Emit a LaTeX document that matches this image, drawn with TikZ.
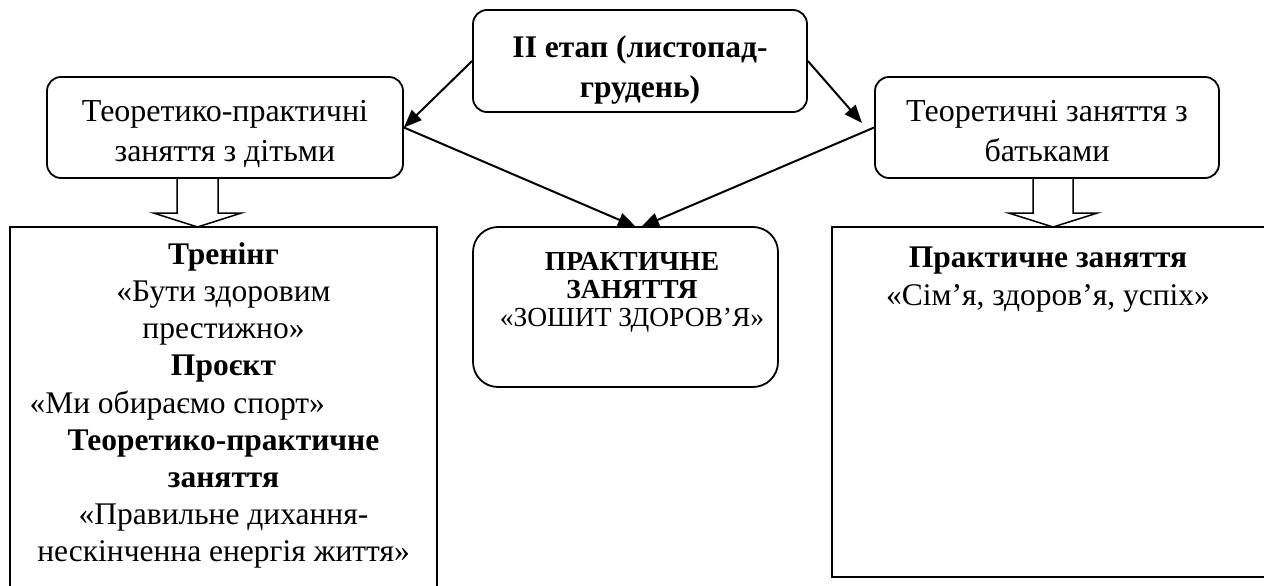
\documentclass[tikz,border=0pt]{standalone}
\usepackage{fontspec}
\setmainfont{Liberation Serif}
\usetikzlibrary{arrows.meta,calc}
\begin{document}
\begin{tikzpicture}[x=1pt,y=-1pt,
  box/.style={draw, line width=1.8pt, rounded corners=14pt, inner sep=0pt},
  bigbox/.style={draw, line width=1.8pt, inner sep=0pt},
  arr/.style={line width=2pt, -{Triangle[length=18pt,width=14pt]}},
  hollow/.style={draw, line width=1.5pt, line join=miter},
  txt/.style={inner sep=0pt, align=center, anchor=north},
  reg/.style={font=\fontsize{32}{40}\selectfont},
]
\useasboundingbox (0,0) rectangle (1264,586);

% boxes
\node[box, minimum width=334pt, minimum height=102pt] (top) at (640,61) {};
\node[txt, font=\fontsize{31.5}{40}\selectfont\bfseries] (toptxt) at ($(top.north)+(0,20)$) {\strut II етап (листопад-\\грудень)};

\node[box, minimum width=356pt, minimum height=101pt] (lbox) at (225,127.5) {};
\node[txt, reg] (lboxtxt) at ($(lbox.north)+(0,17)$) {\strut Теоретико-практичні\\заняття з дітьми};

\node[box, minimum width=344pt, minimum height=101pt] (rbox) at (1047,127.5) {};
\node[txt, reg] (rboxtxt) at ($(rbox.north)+(0,17)$) {\strut Теоретичні заняття з\\батьками};

\node[box, rounded corners=25pt, minimum width=305pt, minimum height=160pt] (mid) at (625.5,307) {};
\node[txt, font=\fontsize{27.5}{28}\selectfont] (midtxt) at ($(mid.north)+(6.5,24.4)$) {\strut\textbf{ПРАКТИЧНЕ}\\\textbf{ЗАНЯТТЯ}\\«ЗОШИТ ЗДОРОВ’Я»};

\node[bigbox, minimum width=427pt, minimum height=363pt] (lbig) at (223.5,408.5) {};
\node[txt, font=\fontsize{31.5}{37.2}\selectfont] (lbigtxt) at ($(lbig.north)+(0,12)$) {\strut\textbf{Тренінг}\\«Бути здоровим\\престижно»\\\textbf{Проєкт}\\\makebox[388pt][l]{«Ми обираємо спорт»}\\\textbf{Теоретико-практичне}\\\textbf{заняття}\\«Правильне дихання-\\нескінченна енергія життя»};

\node[bigbox, minimum width=434pt, minimum height=350pt] (rbig) at (1049,402) {};
\node[txt, font=\fontsize{31.5}{38.5}\selectfont] (rbigtxt) at ($(rbig.north)+(-1,14)$) {\strut\textbf{Практичне заняття}\\«Сім’я, здоров’я, успіх»};

% connectors
\coordinate (rtip) at (862,123);
\coordinate (mtipL) at (636,227);
\coordinate (mtipR) at (641,227);
\draw[arr] (top.west) -- (lbox.east);
\draw[arr] (top.east) -- (rtip);
\draw[arr] (lbox.east) -- (mtipL);
\draw[arr] (rbox.west) -- (mtipR);

% hollow block arrows
\coordinate (lha) at (197.5,178);
\coordinate (rha) at (1053,178);
\draw[hollow] ($(lha)+(-20.5,0)$) -- ($(lha)+(-20.5,35)$) -- ($(lha)+(-44,35)$) -- ($(lha)+(0,49)$) -- ($(lha)+(44,35)$) -- ($(lha)+(20.5,35)$) -- ($(lha)+(20.5,0)$);
\draw[hollow] ($(rha)+(-20,0)$) -- ($(rha)+(-20,35)$) -- ($(rha)+(-44.5,35)$) -- ($(rha)+(0,49)$) -- ($(rha)+(44.5,35)$) -- ($(rha)+(20,35)$) -- ($(rha)+(20,0)$);
\end{tikzpicture}
\end{document}
